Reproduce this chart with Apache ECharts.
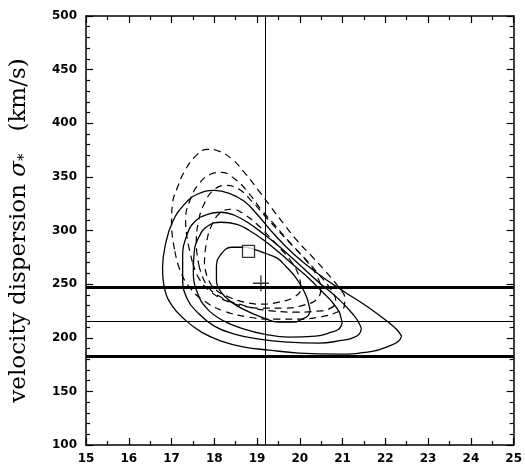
<!DOCTYPE html>
<html>
<head>
<meta charset="utf-8">
<script src="https://cdn.jsdelivr.net/npm/echarts@6/dist/echarts.min.js"></script>
<style>html,body{margin:0;padding:0;background:#fff}#c{width:525px;height:465px}</style>
</head>
<body>
<div id="c"></div>
<script>
// axis ranges
const xRange = [15, 25];
const yRange = [100, 500];

// solid contours (closed loops), [x, y]
const solid1 = [[20.24,225.0],[20.21,231.0],[20.16,237.8],[20.05,247.1],[19.88,257.4],[19.67,266.7],[19.47,274.2],[19.19,278.8],[18.93,282.5],[18.70,284.4],[18.40,284.4],[18.16,277.9],[18.05,266.7],[18.05,254.6],[18.16,242.5],[18.40,233.2],[18.77,224.8],[19.16,218.3],[19.51,214.5],[19.86,214.5],[20.05,217.3],[20.19,220.5]];
const solid2 = [[20.99,213.5],[20.96,219.0],[20.91,224.8],[20.74,234.1],[20.51,243.4],[20.21,255.5],[19.86,267.6],[19.51,279.7],[19.16,290.9],[18.81,300.2],[18.53,305.8],[18.16,307.7],[17.84,304.0],[17.65,294.6],[17.53,279.7],[17.51,261.1],[17.60,242.5],[17.84,226.7],[18.23,215.5],[18.70,208.0],[19.16,203.4],[19.74,200.6],[20.37,201.5],[20.74,205.2],[20.92,208.5]];
const solid3 = [[21.44,208.5],[21.38,214.0],[21.26,221.1],[20.91,236.0],[20.44,251.8],[19.98,268.6],[19.51,285.3],[19.16,296.5],[18.81,306.7],[18.47,314.2],[18.16,317.0],[17.84,315.1],[17.53,307.7],[17.35,294.6],[17.26,276.0],[17.26,254.6],[17.37,236.0],[17.60,223.9],[18.00,210.8],[18.47,203.4],[19.05,198.7],[19.74,195.9],[20.44,195.0],[21.02,197.8],[21.21,199.5],[21.38,203.0]];
const solid4 = [[22.38,201.5],[22.28,207.0],[22.07,214.5],[21.60,228.5],[21.02,243.4],[20.44,259.3],[19.86,277.9],[19.40,296.5],[19.00,315.1],[18.70,327.2],[18.35,334.7],[18.00,337.5],[17.60,333.8],[17.30,324.4],[17.02,307.7],[16.86,287.2],[16.79,265.8],[16.84,245.3],[17.02,229.5],[17.30,217.3],[17.70,205.2],[18.16,196.9],[18.70,191.3],[19.28,188.5],[19.98,185.7],[20.91,184.7],[21.72,187.5],[22.07,192.0],[22.30,196.5]];

// dashed contours (closed loops), [x, y]
const dashed1 = [[17.77,268.6],[17.81,287.2],[17.95,305.8],[18.16,317.0],[18.42,319.8],[18.70,315.1],[19.00,305.8],[19.28,294.6],[19.56,282.5],[19.81,270.4],[19.98,257.4],[20.02,245.3],[19.86,237.8],[19.51,233.2],[19.09,231.3],[18.70,233.2],[18.35,237.8],[18.02,245.3],[17.84,256.5]];
const dashed2 = [[17.65,265.8],[17.58,287.2],[17.63,308.6],[17.77,325.4],[17.98,337.5],[18.26,342.1],[18.58,338.4],[18.88,327.2],[19.19,313.3],[19.51,299.3],[19.86,284.4],[20.16,271.4],[20.40,257.4],[20.49,245.3],[20.40,236.0],[20.09,230.4],[19.63,227.6],[19.09,227.6],[18.58,231.3],[18.16,237.8],[17.84,248.1]];
const dashed3 = [[17.49,270.4],[17.37,291.8],[17.33,310.5],[17.44,329.1],[17.65,344.0],[17.91,352.4],[18.16,354.2],[18.49,347.7],[18.81,334.7],[19.09,319.8],[19.40,305.8],[19.74,290.0],[20.09,275.1],[20.44,259.3],[20.72,245.3],[20.84,234.1],[20.72,227.6],[20.40,224.8],[19.93,223.9],[19.40,224.8],[18.81,228.5],[18.30,234.1],[17.93,242.5],[17.65,254.6]];
const dashed4 = [[17.07,282.5],[17.00,305.8],[17.02,324.4],[17.14,340.3],[17.33,357.0],[17.58,370.1],[17.84,375.7],[18.12,373.8],[18.42,366.4],[18.74,352.4],[19.05,336.5],[19.33,321.6],[19.63,305.8],[19.93,290.9],[20.28,276.0],[20.60,262.0],[20.91,247.1],[21.05,237.0],[21.04,229.5],[20.85,223.5],[20.44,219.2],[19.98,217.3],[19.40,217.3],[18.81,219.2],[18.23,224.8],[17.77,234.1],[17.42,247.1],[17.19,263.9]];

// reference lines
const thickLevels = [247.5, 182.6];
const thinLevels = [215];
const verticalLines = [19.2];

// markers
const squarePoint = [[18.8, 280.6]];
const crossPoint = [[19.09, 250.8]];

const close = a => a.concat([a[0]]);
const tickFont = {fontFamily: 'DejaVu Sans', fontWeight: 'bold', fontSize: 12, color: '#000'};

function solidSeries(d) {
  return {type: 'line', data: close(d), showSymbol: false, smooth: 0.45, silent: true,
    lineStyle: {color: '#000', width: 1.3}, z: 3};
}
function dashedSeries(d) {
  return {type: 'line', data: close(d), showSymbol: false, smooth: 0.45, silent: true,
    lineStyle: {color: '#000', width: 1.2, type: [7, 5]}, z: 3};
}

const markData = [];
thickLevels.forEach(v => markData.push({yAxis: v, lineStyle: {width: 3, color: '#000', type: 'solid'}}));
thinLevels.forEach(v => markData.push({yAxis: v, lineStyle: {width: 1, color: '#000', type: 'solid'}}));
verticalLines.forEach(v => markData.push({xAxis: v, lineStyle: {width: 1, color: '#000', type: 'solid'}}));

const axisCommonX = {
  type: 'value', min: xRange[0], max: xRange[1], interval: 1,
  axisLine: {show: true, lineStyle: {color: '#000', width: 1.5}},
  axisTick: {show: true, inside: true, length: 7, lineStyle: {color: '#000', width: 1.2}},
  minorTick: {show: true, splitNumber: 2, length: 4, lineStyle: {color: '#000', width: 1.2}},
  splitLine: {show: false}, minorSplitLine: {show: false}
};
const axisCommonY = {
  type: 'value', min: yRange[0], max: yRange[1], interval: 50,
  axisLine: {show: true, lineStyle: {color: '#000', width: 1.5}},
  axisTick: {show: true, inside: true, length: 7, lineStyle: {color: '#000', width: 1.2}},
  minorTick: {show: true, splitNumber: 5, length: 4, lineStyle: {color: '#000', width: 1.2}},
  splitLine: {show: false}, minorSplitLine: {show: false}
};

const chart = echarts.init(document.getElementById('c'), null, {renderer: 'canvas'});
chart.setOption({
  animation: false,
  backgroundColor: '#fff',
  grid: {left: 86, right: 9, top: 16, bottom: 19, containLabel: false},
  xAxis: [
    Object.assign({}, axisCommonX, {position: 'bottom', axisLabel: Object.assign({margin: 8}, tickFont)}),
    Object.assign({}, axisCommonX, {position: 'top', axisLabel: {show: false}})
  ],
  yAxis: [
    Object.assign({}, axisCommonY, {position: 'left', axisLabel: Object.assign({margin: 9}, tickFont),
      name: 'velocity dispersion {s|σ}{sub|*}   (km/s)',
      nameLocation: 'middle', nameRotate: 90, nameGap: 54,
      nameTextStyle: {fontFamily: 'DejaVu Serif', fontSize: 23, color: '#000',
        rich: {
          s: {fontFamily: 'DejaVu Serif', fontStyle: 'italic', fontSize: 23, color: '#000'},
          sub: {fontFamily: 'DejaVu Serif', fontSize: 15, color: '#000', verticalAlign: 'bottom', padding: [10, 0, 0, 0]}
        }}}),
    Object.assign({}, axisCommonY, {position: 'right', axisLabel: {show: false}})
  ],
  series: [
    solidSeries(solid1), solidSeries(solid2), solidSeries(solid3), solidSeries(solid4),
    dashedSeries(dashed1), dashedSeries(dashed2), dashedSeries(dashed3), dashedSeries(dashed4),
    {type: 'scatter', data: [], silent: true,
      markLine: {symbol: ['none', 'none'], silent: true, label: {show: false}, data: markData, animation: false}},
    {type: 'scatter', data: squarePoint, symbol: 'rect', symbolSize: 12, silent: true, z: 5,
      itemStyle: {color: '#fff', borderColor: '#000', borderWidth: 1.3}},
    {type: 'scatter', data: crossPoint, symbol: 'path://M10,0L10,20M0,10L20,10', symbolSize: 16, silent: true, z: 5,
      itemStyle: {color: 'none', borderColor: '#000', borderWidth: 1.3}}
  ]
});
</script>
</body>
</html>
